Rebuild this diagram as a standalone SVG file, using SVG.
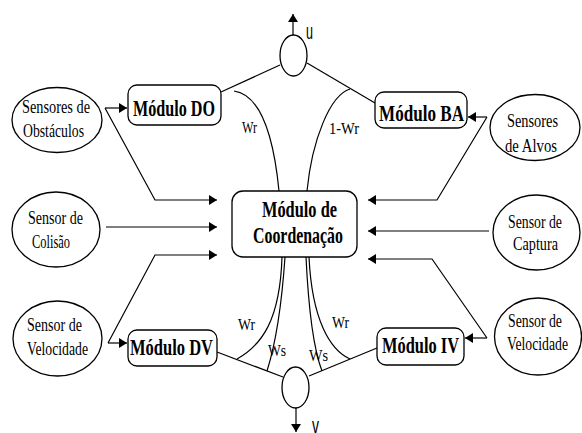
<svg xmlns="http://www.w3.org/2000/svg" width="582" height="433" viewBox="0 0 582 433">
  <style>
    .shape { fill: #fff; stroke: #000; stroke-width: 1.3; }
    .wire { fill: none; stroke: #000; stroke-width: 1.2; }
    .sensor { font-family: "Liberation Serif", serif; font-size: 18px; fill: #000; }
    .module { font-family: "Liberation Serif", serif; font-size: 23px; font-weight: bold; fill: #000; }
    .coord { font-family: "Liberation Serif", serif; font-size: 23px; font-weight: bold; fill: #000; }
    .weight { font-family: "Liberation Serif", serif; font-size: 16px; fill: #000; }
    .out { font-family: "Liberation Sans", sans-serif; font-size: 22px; fill: #000; }
  </style>
  <defs>
    <marker id="arrow" markerUnits="userSpaceOnUse" markerWidth="9" markerHeight="10" refX="8" refY="5" orient="auto">
      <path d="M0,0 L8,5 L0,10 z" fill="#000"/>
    </marker>
  </defs>
  <rect width="582" height="433" fill="#fff"/>

  <!-- connectors -->
  <g id="connectors" class="wire">
    <!-- left sensors -->
    <path d="M105 108 H127" marker-end="url(#arrow)"/>
    <path d="M105 108 L155 200 H217" marker-end="url(#arrow)"/>
    <path d="M106 227 H217" marker-end="url(#arrow)"/>
    <path d="M108 343 H127" marker-end="url(#arrow)"/>
    <path d="M108 343 L155 255 H217" marker-end="url(#arrow)"/>
    <!-- right sensors -->
    <path d="M487 117 H468" marker-end="url(#arrow)"/>
    <path d="M487 117 L437 200 H368" marker-end="url(#arrow)"/>
    <path d="M489 231 H368" marker-end="url(#arrow)"/>
    <path d="M487 338 H465" marker-end="url(#arrow)"/>
    <path d="M487 338 L432 259 H368" marker-end="url(#arrow)"/>
    <!-- module outputs to the summing nodes -->
    <path d="M221 92 L280 65"/>
    <path d="M307 63 L375 103"/>
    <path d="M217 352 L283 377"/>
    <path d="M309 376 L377 348"/>
    <!-- weights from the coordination module -->
    <path d="M234 91 C262 95 274 140 279 191"/>
    <path d="M350 89 C330 95 312 140 307 191"/>
    <path d="M282 257 C280 320 262 345 237 359"/>
    <path d="M285 257 Q280 330 267 371"/>
    <path d="M306 257 Q310 340 322 371"/>
    <path d="M309 257 C312 320 330 350 350 359"/>
    <!-- outputs u and v -->
    <path d="M293 35 V14" marker-end="url(#arrow)"/>
    <path d="M296 408 V432" marker-end="url(#arrow)"/>
  </g>

  <!-- weight labels -->
  <g id="weights" class="weight">
    <text x="242" y="133" textLength="15" lengthAdjust="spacingAndGlyphs">Wr</text>
    <text x="329" y="134" textLength="30" lengthAdjust="spacingAndGlyphs">1-Wr</text>
    <text x="238" y="330" textLength="17" lengthAdjust="spacingAndGlyphs">Wr</text>
    <text x="268" y="356" textLength="18" lengthAdjust="spacingAndGlyphs">Ws</text>
    <text x="309" y="361" textLength="19" lengthAdjust="spacingAndGlyphs">Ws</text>
    <text x="332" y="328" textLength="17" lengthAdjust="spacingAndGlyphs">Wr</text>
  </g>

  <!-- sensors -->
  <g id="sensores-obstaculos">
    <ellipse class="shape" cx="57" cy="120" rx="45" ry="32.5"/>
    <text class="sensor" x="22" y="113" textLength="68" lengthAdjust="spacingAndGlyphs">Sensores de</text>
    <text class="sensor" x="23" y="137" textLength="61" lengthAdjust="spacingAndGlyphs">Obstáculos</text>
  </g>
  <g id="sensor-colisao">
    <ellipse class="shape" cx="56" cy="229.5" rx="44" ry="37.5"/>
    <text class="sensor" x="28" y="224" textLength="55" lengthAdjust="spacingAndGlyphs">Sensor de</text>
    <text class="sensor" x="32" y="248" textLength="38" lengthAdjust="spacingAndGlyphs">Colisão</text>
  </g>
  <g id="sensor-velocidade-esq">
    <ellipse class="shape" cx="57.5" cy="338.5" rx="44.5" ry="37.5"/>
    <text class="sensor" x="27" y="331" textLength="55" lengthAdjust="spacingAndGlyphs">Sensor de</text>
    <text class="sensor" x="27" y="355" textLength="61" lengthAdjust="spacingAndGlyphs">Velocidade</text>
  </g>
  <g id="sensores-alvos">
    <ellipse class="shape" cx="535" cy="127.5" rx="45" ry="33"/>
    <text class="sensor" x="507" y="127" textLength="51" lengthAdjust="spacingAndGlyphs">Sensores</text>
    <text class="sensor" x="505" y="152" textLength="52" lengthAdjust="spacingAndGlyphs">de Alvos</text>
  </g>
  <g id="sensor-captura">
    <ellipse class="shape" cx="536.5" cy="232.5" rx="43.5" ry="37.5"/>
    <text class="sensor" x="508" y="228" textLength="54" lengthAdjust="spacingAndGlyphs">Sensor de</text>
    <text class="sensor" x="513" y="250" textLength="45" lengthAdjust="spacingAndGlyphs">Captura</text>
  </g>
  <g id="sensor-velocidade-dir">
    <ellipse class="shape" cx="538" cy="336.5" rx="43.5" ry="38.5"/>
    <text class="sensor" x="508" y="327" textLength="54" lengthAdjust="spacingAndGlyphs">Sensor de</text>
    <text class="sensor" x="507" y="350" textLength="61" lengthAdjust="spacingAndGlyphs">Velocidade</text>
  </g>

  <!-- behaviour modules -->
  <g id="modulo-do">
    <rect class="shape" x="128" y="85" width="93" height="40" rx="9"/>
    <text class="module" x="133" y="116" textLength="82" lengthAdjust="spacingAndGlyphs">Módulo DO</text>
  </g>
  <g id="modulo-ba">
    <rect class="shape" x="375" y="92" width="92" height="36" rx="9"/>
    <text class="module" x="379" y="121" textLength="85" lengthAdjust="spacingAndGlyphs">Módulo BA</text>
  </g>
  <g id="modulo-dv">
    <rect class="shape" x="128" y="330" width="89" height="36" rx="9"/>
    <text class="module" x="130" y="355" textLength="83" lengthAdjust="spacingAndGlyphs">Módulo DV</text>
  </g>
  <g id="modulo-iv">
    <rect class="shape" x="377" y="328" width="87" height="37" rx="9"/>
    <text class="module" x="382" y="353" textLength="77" lengthAdjust="spacingAndGlyphs">Módulo IV</text>
  </g>

  <!-- coordination module -->
  <g id="modulo-coordenacao">
    <rect class="shape" x="232" y="191" width="125" height="66" rx="11"/>
    <text class="coord" x="262" y="217" textLength="75" lengthAdjust="spacingAndGlyphs">Módulo de</text>
    <text class="coord" x="253" y="243" textLength="90" lengthAdjust="spacingAndGlyphs">Coordenação</text>
  </g>

  <!-- summing nodes -->
  <g id="soma-u">
    <ellipse class="shape" cx="293.5" cy="55.5" rx="13.5" ry="20.5"/>
    <text class="out" x="306" y="39" textLength="7" lengthAdjust="spacingAndGlyphs">u</text>
  </g>
  <g id="soma-v">
    <ellipse class="shape" cx="295.5" cy="387.5" rx="13.5" ry="20.5"/>
    <text class="out" x="312" y="433" textLength="7" lengthAdjust="spacingAndGlyphs">v</text>
  </g>
</svg>
